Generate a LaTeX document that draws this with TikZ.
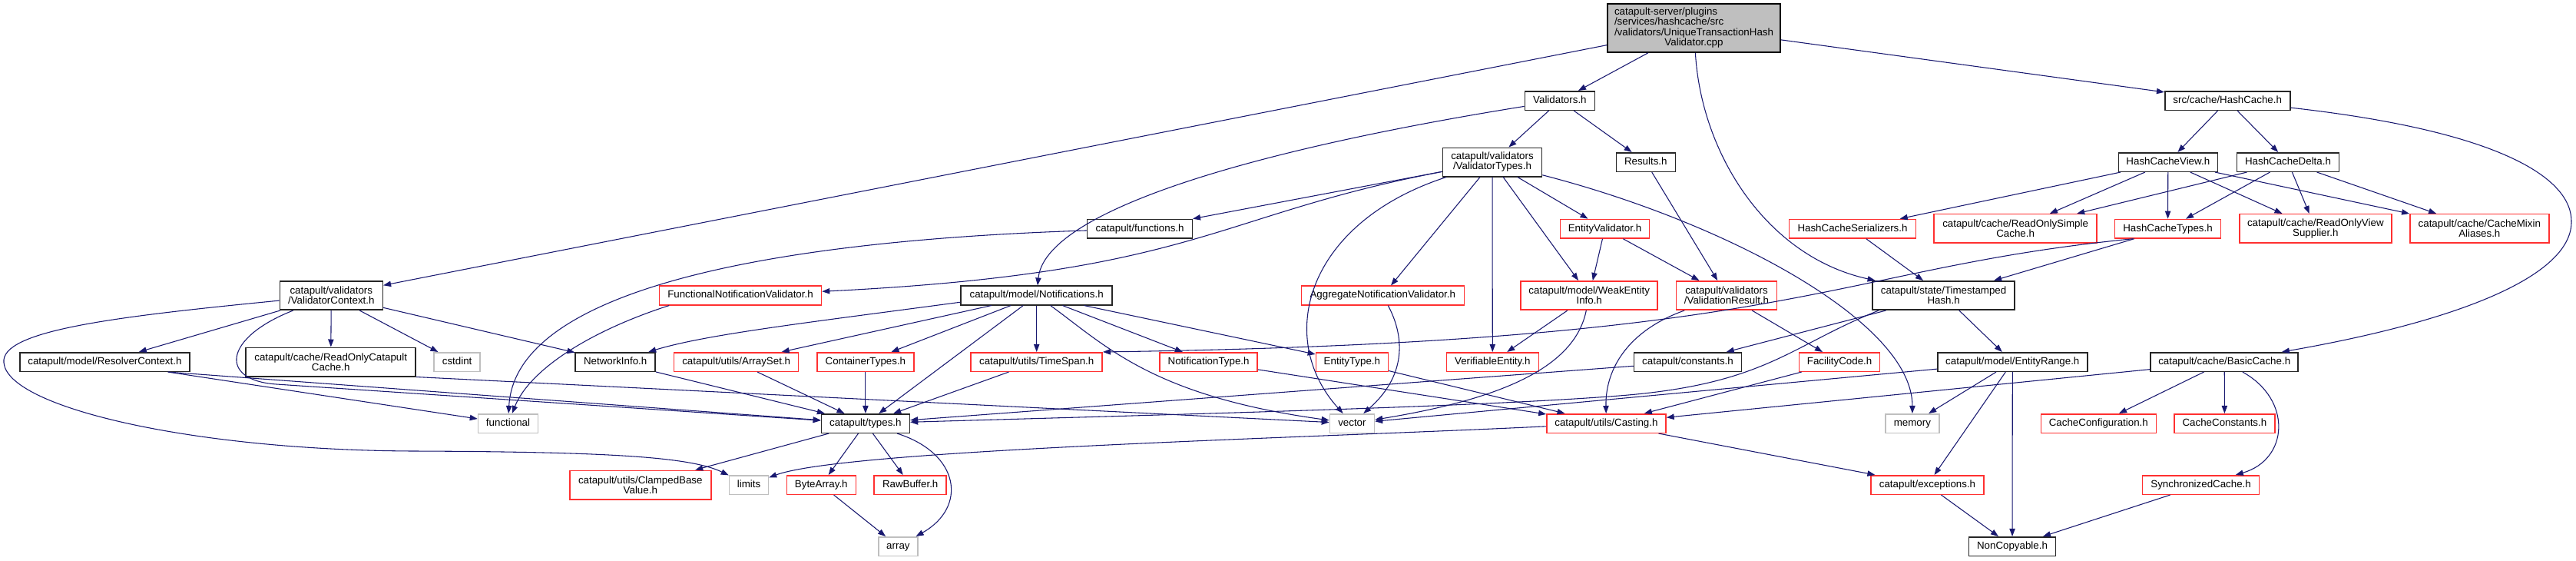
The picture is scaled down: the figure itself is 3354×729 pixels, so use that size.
\documentclass[tikz,border=0pt]{standalone}
\usepackage{fontspec}
\setmainfont{Liberation Sans}
\usetikzlibrary{arrows.meta}
\definecolor{edgeblue}{HTML}{191970}
\definecolor{cutred}{HTML}{FF3030}
\definecolor{sysgrey}{HTML}{BFBFBF}

\begin{document}
\begin{tikzpicture}[x=0.75pt,y=-0.75pt,  % 1 unit = 1 px of the graph, y runs down
  >={Triangle[length=7.5pt,width=5.5pt]},
  hbox/.style={fill=white,line width=1.15pt,inner sep=2pt,font=\fontsize{10}{9.8}\selectfont},
  hfile/.style={hbox,draw=black!85},
  hcut/.style={hbox,draw=cutred},
  hsys/.style={hbox,draw=sysgrey},
  one/.style={minimum height=18.4pt,text height=7.2pt,text depth=2.1pt},
  two/.style={minimum height=28.1pt,align=center},
  bw/.style={minimum width=#1*0.75pt},
  dep/.style={->,draw=edgeblue,line width=0.8pt}]
  \useasboundingbox (0,0) rectangle (3354,729);
  % ---- the file itself
  \node[hfile,draw=black,fill=sysgrey,line width=1.2pt,bw=225,minimum height=47.25pt] (root) at (2205.5,36.5)
    {\begin{tabular}{@{}l@{}}catapult-server/plugins\\/services/hashcache/src\\/validators/UniqueTransactionHash\\
     \multicolumn{1}{@{}c@{}}{Validator.cpp}\end{tabular}};
  % ---- rows of headers, top to bottom
  \node[hfile,one,bw=91] (validators) at (2030.9,131) {Validators.h};
  \node[hfile,one,bw=163] (hashcache) at (2900.2,131) {src/cache/HashCache.h};

  \node[hfile,two,bw=129] (valtypes) at (1943,211) {catapult/validators\\/ValidatorTypes.h};
  \node[hfile,one,bw=77] (results) at (2142.8,211) {Results.h};
  \node[hfile,one,bw=129] (hcview) at (2822.8,211) {HashCacheView.h};
  \node[hfile,one,bw=133] (hcdelta) at (2979,211) {HashCacheDelta.h};

  \node[hfile,one,bw=137] (functions) at (1484.1,297.7) {catapult/functions.h};
  \node[hcut,one,bw=116] (entval) at (2089.5,297.7) {EntityValidator.h};
  \node[hcut,one,bw=165] (hcser) at (2412,297.7) {HashCacheSerializers.h};
  \node[hcut,two,bw=212] (rosimple) at (2624.1,297.4) {catapult/cache/ReadOnlySimple\\Cache.h};
  \node[hcut,one,bw=138] (hctypes) at (2822.5,297.7) {HashCacheTypes.h};
  \node[hcut,two,bw=198] (roview) at (3014.8,297.4) {catapult/cache/ReadOnlyView\\Supplier.h};
  \node[hcut,two,bw=181] (mixin) at (3228.3,297.4) {catapult/cache/CacheMixin\\Aliases.h};

  \node[hfile,two,bw=134] (valctx) at (431.3,384.5) {catapult/validators\\/ValidatorContext.h};
  \node[hcut,one,bw=211] (funcnotif) at (964,384.5) {FunctionalNotificationValidator.h};
  \node[hfile,one,bw=197] (notif) at (1349.7,384.5) {catapult/model/Notifications.h};
  \node[hcut,one,bw=212] (aggnotif) at (1800.3,384.5) {AggregateNotificationValidator.h};
  \node[hcut,two,bw=178] (weak) at (2069.2,384.5) {catapult/model/WeakEntity\\Info.h};
  \node[hcut,two,bw=131] (valresult) at (2248,384.5) {catapult/validators\\/ValidationResult.h};
  \node[hfile,two,bw=185] (tshash) at (2530.6,384.5) {catapult/state/Timestamped\\Hash.h};

  \node[hfile,one,bw=221] (resolver) at (136.4,471) {catapult/model/ResolverContext.h};
  \node[hfile,two,bw=221] (rocatapult) at (430.7,471) {catapult/cache/ReadOnlyCatapult\\Cache.h};
  \node[hsys,one,bw=60] (cstdint) at (595.1,471) {cstdint};
  \node[hfile,one,bw=104] (netinfo) at (801.2,471) {NetworkInfo.h};
  \node[hcut,one,bw=162] (arrayset) at (958.7,471) {catapult/utils/ArraySet.h};
  \node[hcut,one,bw=126] (container) at (1126.9,471) {ContainerTypes.h};
  \node[hcut,one,bw=171] (timespan) at (1349.7,471) {catapult/utils/TimeSpan.h};
  \node[hcut,one,bw=127] (notiftype) at (1573.6,471) {NotificationType.h};
  \node[hcut,one,bw=94] (entitytype) at (1760.4,471) {EntityType.h};
  \node[hcut,one,bw=120] (verifiable) at (1943.3,471) {VerifiableEntity.h};
  \node[hfile,one,bw=140] (constants) at (2197.5,471) {catapult/constants.h};
  \node[hcut,one,bw=105] (facility) at (2395.1,471) {FacilityCode.h};
  \node[hfile,one,bw=195] (entityrange) at (2620.3,471) {catapult/model/EntityRange.h};
  \node[hfile,one,bw=192] (basiccache) at (2896.2,471) {catapult/cache/BasicCache.h};

  \node[hsys,one,bw=78] (functional) at (661.5,551) {functional};
  \node[hfile,one,bw=115] (types) at (1126.9,551) {catapult/types.h};
  \node[hsys,one,bw=58] (vector) at (1760.4,551) {vector};
  \node[hcut,one,bw=155] (casting) at (2091.4,551) {catapult/utils/Casting.h};
  \node[hsys,one,bw=70] (memory) at (2489.9,551) {memory};
  \node[hcut,one,bw=150] (cacheconf) at (2732.3,551) {CacheConfiguration.h};
  \node[hcut,one,bw=131] (cacheconst) at (2896.4,551) {CacheConstants.h};

  \node[hcut,two,bw=184] (clamped) at (833.8,631) {catapult/utils/ClampedBase\\Value.h};
  \node[hsys,one,bw=51] (limits) at (975,631) {limits};
  \node[hcut,one,bw=90] (bytearray) at (1069.3,631) {ByteArray.h};
  \node[hcut,one,bw=94] (rawbuffer) at (1185.2,631) {RawBuffer.h};
  \node[hcut,one,bw=147] (exceptions) at (2509.5,631) {catapult/exceptions.h};
  \node[hcut,one,bw=152] (synccache) at (2865.6,631) {SynchronizedCache.h};

  \node[hsys,one,bw=51] (array) at (1169.4,711) {array};
  \node[hfile,one,bw=113] (noncopy) at (2620,711) {NonCopyable.h};

  % ---- includes of the file
  \draw[dep] (root) -- (valctx);
  \draw[dep] (root) -- (validators);
  \draw[dep] (root) .. controls (2215,200) and (2300,334) .. (tshash);
  \draw[dep] (root) -- (hashcache);
  % ---- validators side
  \draw[dep] (validators) -- (valtypes);
  \draw[dep] (validators) -- (results);
  \draw[dep] (validators) .. controls (1600,200) and (1360,280) .. (notif);
  \draw[dep] (valtypes) -- (functions);
  \draw[dep] (valtypes) .. controls (1580,280) and (1560,355) .. (funcnotif);
  \draw[dep] (valtypes) .. controls (1700,290) and (1660,440) .. (vector);
  \foreach \t in {aggnotif,verifiable,weak,entval} \draw[dep] (valtypes) -- (\t);
  \draw[dep] (valtypes) .. controls (2250,290) and (2490,420) .. (memory);
  \draw[dep] (results) -- (valresult);
  \draw[dep] (entval) -- (weak);
  \draw[dep] (entval) -- (valresult);
  % ---- hash cache side
  \draw[dep] (hashcache) -- (hcview);
  \draw[dep] (hashcache) -- (hcdelta);
  \draw[dep] (hashcache) .. controls (3250,170) and (3350,230) .. (3348,290)
    .. controls (3346,360) and (3200,418) .. (basiccache);
  \foreach \t in {hcser,rosimple,hctypes,roview,mixin} \draw[dep] (hcview) -- (\t);
  \foreach \t in {rosimple,hctypes,roview,mixin} \draw[dep] (hcdelta) -- (\t);
  \draw[dep] (hcser) -- (tshash);
  \draw[dep] (hctypes) -- (tshash);
  \draw[dep] (hctypes.196) .. controls (2380,350) and (2350,445) .. (timespan.north east);
  % ---- validator context
  \foreach \t in {resolver,rocatapult,cstdint,netinfo} \draw[dep] (valctx) -- (\t);
  \draw[dep] (valctx) .. controls (290,440) and (285,495) .. (360,500) -- (types);
  \draw[dep] (valctx) .. controls (150,412) and (0,430) .. (5,472)
    .. controls (10,530) and (250,586) .. (540,587) .. controls (800,588) and (900,595) .. (limits);
  \draw[dep] (resolver.-9) -- (functional);
  \draw[dep] (resolver.-9) -- (types);
  \draw[dep] (rocatapult.south east) -- (vector);
  \draw[dep] (netinfo) -- (types);
  \draw[dep] (functions) .. controls (950,315) and (670,390) .. (functional);
  \draw[dep] (funcnotif.188) .. controls (770,430) and (690,480) .. (functional);
  % ---- notifications
  \foreach \t in {arrayset,container,types,timespan,notiftype,entitytype} \draw[dep] (notif) -- (\t);
  \draw[dep] (notif.185) .. controls (1050,420) and (920,435) .. (netinfo);
  \draw[dep] (notif) .. controls (1440,450) and (1500,515) .. (vector);
  \foreach \s in {arrayset,container,timespan,constants} \draw[dep] (\s) -- (types);
  \draw[dep] (aggnotif) .. controls (1830,440) and (1830,490) .. (vector);
  \draw[dep] (weak) -- (verifiable);
  \draw[dep] (weak) .. controls (2050,480) and (1950,520) .. (vector);
  \draw[dep] (valresult) .. controls (2120,430) and (2090,480) .. (casting);
  \draw[dep] (valresult) -- (facility);
  \foreach \s in {notiftype,entitytype,facility,basiccache} \draw[dep] (\s) -- (casting);
  % ---- timestamped hash and caches
  \draw[dep] (tshash) -- (constants);
  \draw[dep] (tshash.193) .. controls (2330,450) and (2300,500) .. (2108,515)
    .. controls (1916,530) and (1500,540) .. (types);
  \draw[dep] (tshash) -- (entityrange);
  \foreach \t in {vector,memory,exceptions,noncopy} \draw[dep] (entityrange) -- (\t);
  \draw[dep] (basiccache) -- (cacheconf);
  \draw[dep] (basiccache) -- (cacheconst);
  \draw[dep] (basiccache) .. controls (2985,520) and (2980,598) .. (synccache);
  % ---- bottom rows
  \foreach \t in {clamped,bytearray,rawbuffer} \draw[dep] (types) -- (\t);
  \draw[dep] (types) .. controls (1250,590) and (1260,660) .. (array);
  \draw[dep] (bytearray) -- (array);
  \draw[dep] (casting) .. controls (1700,570) and (1100,585) .. (limits);
  \draw[dep] (casting) -- (exceptions);
  \draw[dep] (exceptions) -- (noncopy);
  \draw[dep] (synccache) -- (noncopy);
\end{tikzpicture}
\end{document}
